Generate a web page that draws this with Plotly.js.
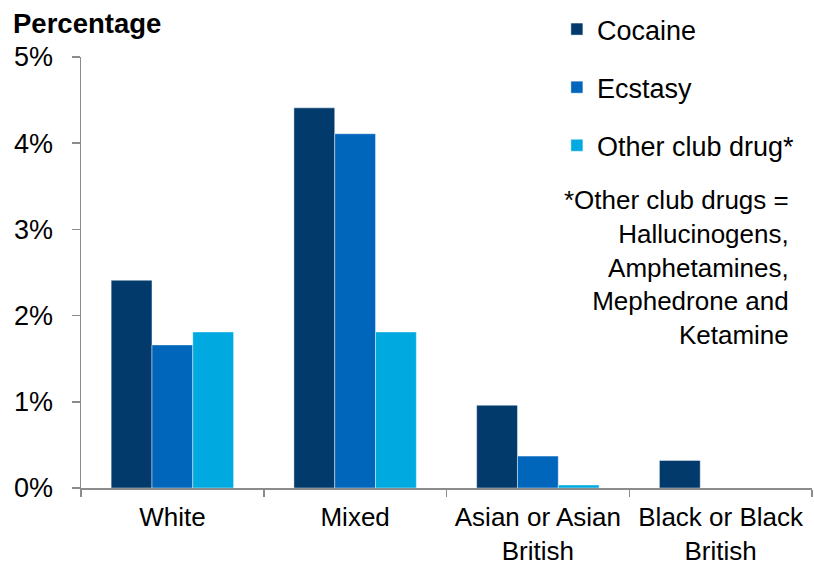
<!DOCTYPE html>
<html>
<head>
<meta charset="utf-8">
<script src="https://cdn.plot.ly/plotly-3.0.1.min.js"></script>
<style>
  html, body { margin: 0; padding: 0; background: #ffffff; }
  #chart { width: 814px; height: 564px; }
</style>
</head>
<body>
<div id="chart"></div>
<script>
// Ethnic groups along the x axis
const groups = ["White", "Mixed", "Asian or Asian<br>British", "Black or Black<br>British"];

// Share of adults reporting use of each drug, percent
const cocaine = [2.41, 4.41, 0.96, 0.32];
const ecstasy = [1.66, 4.11, 0.37, 0];
const otherClubDrug = [1.81, 1.81, 0.035, 0];

const yTickValues = [0, 1, 2, 3, 4, 5];
const yTickLabels = ["0%", "1%", "2%", "3%", "4%", "5%"];

const FONT = "Liberation Sans, Arial, sans-serif";

function barTrace(name, values, color, group) {
  return {
    type: "bar",
    name: name,
    x: groups,
    y: values,
    legendgroup: group,
    marker: { color: color, line: { color: "rgba(255,255,255,0.55)", width: 0.8 } },
    hoverinfo: "skip"
  };
}

const data = [
  barTrace("Cocaine", cocaine, "#023a6b", "g1"),
  barTrace("Ecstasy", ecstasy, "#0066bc", "g2"),
  barTrace("Other club drug*", otherClubDrug, "#00aae0", "g3")
];

const layout = {
  width: 814,
  height: 564,
  margin: { l: 81, r: 2, t: 57, b: 76, pad: 0 },
  paper_bgcolor: "#ffffff",
  plot_bgcolor: "#ffffff",
  font: { family: FONT, size: 27, color: "#000000" },
  barmode: "group",
  bargap: 0.33,
  bargroupgap: 0,
  showlegend: true,
  legend: {
    x: 0.651, y: 1.1206, xanchor: "left", yanchor: "top",
    traceorder: "grouped",
    tracegroupgap: 20,
    font: { family: FONT, size: 27, color: "#000000" },
    bgcolor: "rgba(0,0,0,0)",
    borderwidth: 0
  },
  xaxis: {
    type: "category",
    showline: true,
    linecolor: "#8c8c8c",
    linewidth: 1.5,
    ticks: "outside",
    tickson: "boundaries",
    ticklen: 7,
    tickwidth: 1.5,
    tickcolor: "#8c8c8c",
    ticklabelstandoff: 5,
    showgrid: false,
    zeroline: false,
    tickfont: { family: FONT, size: 26, color: "#000000" },
    fixedrange: true
  },
  yaxis: {
    range: [0, 5],
    tickvals: yTickValues,
    ticktext: yTickLabels,
    showline: true,
    linecolor: "#8c8c8c",
    linewidth: 1.5,
    ticks: "outside",
    ticklen: 8,
    tickwidth: 1.5,
    tickcolor: "#8c8c8c",
    ticklabelstandoff: 13,
    showgrid: false,
    zeroline: false,
    tickfont: { family: FONT, size: 27, color: "#000000" },
    fixedrange: true
  },
  annotations: [
    {
      text: "<b>Percentage</b>",
      xref: "paper", yref: "paper",
      x: -0.0958, y: 1.1184,
      xanchor: "left", yanchor: "top",
      showarrow: false,
      font: { family: FONT, size: 27.5, color: "#000000" }
    },
    {
      text: "*Other club drugs =<br>Hallucinogens,<br>Amphetamines,<br>Mephedrone and<br>Ketamine",
      xref: "paper", yref: "paper",
      x: 0.971, y: 0.7077,
      xanchor: "right", yanchor: "top",
      align: "right",
      showarrow: false,
      font: { family: FONT, size: 26, color: "#000000" }
    }
  ]
};

Plotly.newPlot("chart", data, layout, { displayModeBar: false, staticPlot: true });
</script>
</body>
</html>
